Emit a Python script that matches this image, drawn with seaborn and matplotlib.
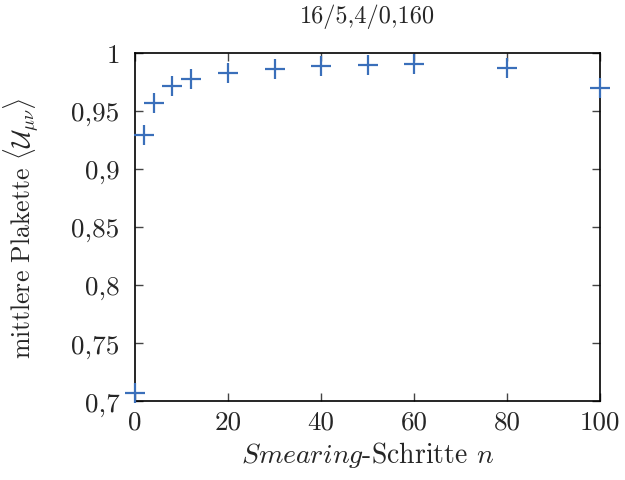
import matplotlib
matplotlib.use("Agg")
import matplotlib.pyplot as plt
import seaborn as sns
import pandas as pd
from matplotlib.ticker import FuncFormatter

# smearing steps and mean plaquette
steps = [0, 2, 4, 8, 12, 20, 30, 40, 50, 60, 80, 100]
plaquette = [0.7066, 0.929, 0.9566, 0.9718, 0.9776, 0.983, 0.9862,
             0.9885, 0.9897, 0.9902, 0.9868, 0.9698]

df = pd.DataFrame({"n": steps, "plaq": plaquette})

sns.set_style("ticks")
plt.rcParams["font.family"] = "serif"
plt.rcParams["font.serif"] = ["cmr10", "DejaVu Serif"]
plt.rcParams["mathtext.fontset"] = "cm"
plt.rcParams["axes.unicode_minus"] = False

fig = plt.figure(figsize=(6.25, 4.81), dpi=100)
ax = fig.add_axes([0.216, 0.164, 0.744, 0.724])

sns.scatterplot(data=df, x="n", y="plaq", ax=ax, marker="+", s=210,
                color="#3a6fba", linewidth=1.6, clip_on=False, zorder=5)

ax.set_xlim(0, 100)
ax.set_ylim(0.7, 1.0)
ax.set_xticks([0, 20, 40, 60, 80, 100])
ax.set_yticks([0.7, 0.75, 0.8, 0.85, 0.9, 0.95, 1.0])


def comma_fmt(v, pos):
    s = f"{v:.2f}".rstrip("0").rstrip(".")
    return s.replace(".", ",")


ax.yaxis.set_major_formatter(FuncFormatter(comma_fmt))
ax.tick_params(direction="in", top=True, right=True, length=6,
               labelsize=19.5, color="#444444", width=1, pad=6)
ax.tick_params(axis="y", pad=11)
for sp in ax.spines.values():
    sp.set_linewidth(1.2)
    sp.set_color("black")

ax.set_xlabel(r"$\mathit{Smearing}$-Schritte $n$", fontsize=20, labelpad=4)
ax.set_ylabel(r"mittlere Plakette $\langle\mathcal{U}_{\mu\nu}\rangle$",
              fontsize=18.5, labelpad=22)
ax.set_title("16/5,4/0,160", fontsize=17.5, pad=22)

fig.savefig("out.png", dpi=100)
